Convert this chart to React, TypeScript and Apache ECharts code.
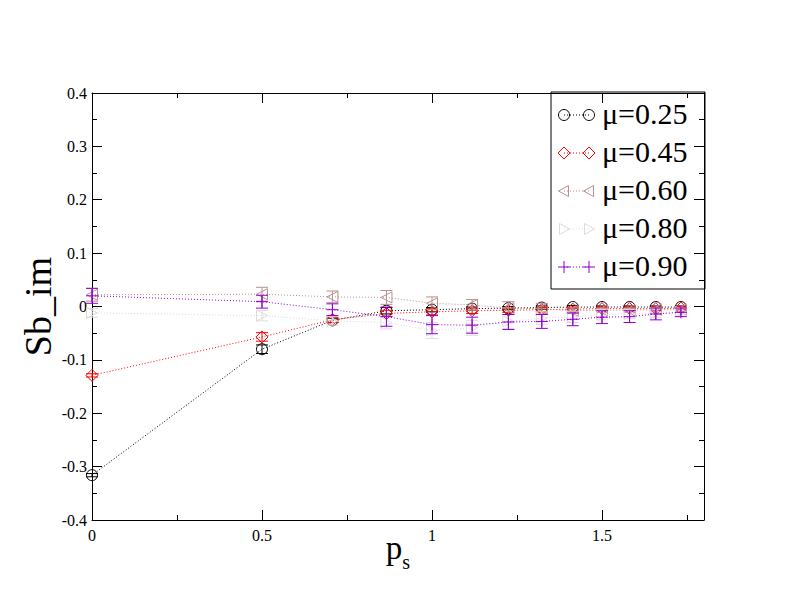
import React, { useEffect, useRef } from "react";
import * as echarts from "echarts";

// ---- data ----
const psValues = [0, 0.5, 0.7071, 0.866, 1.0, 1.118, 1.2247, 1.3229, 1.4142, 1.5, 1.5811, 1.6583, 1.7321];

const mu025 = [-0.316, -0.080, -0.026, -0.008, -0.006, -0.004, -0.003, -0.002, -0.001, -0.001, -0.001, -0.001, -0.001];
const mu025Err = [0.003, 0.008, 0.004, 0.006, 0.004, 0.003, 0.003, 0.003, 0.003, 0.002, 0.002, 0.002, 0.002];

const mu045 = [-0.129, -0.057, -0.025, -0.013, -0.010, -0.008, -0.007, -0.006, -0.005, -0.004, -0.004, -0.004, -0.003];
const mu045Err = [0.003, 0.008, 0.005, 0.006, 0.006, 0.005, 0.004, 0.004, 0.004, 0.003, 0.003, 0.003, 0.003];

const mu060 = [0.022, 0.023, 0.018, 0.017, 0.006, 0.003, -0.003, -0.004, -0.008, -0.007, -0.007, -0.006, -0.006];
const mu060Err = [0.012, 0.013, 0.011, 0.013, 0.012, 0.010, 0.012, 0.010, 0.005, 0.004, 0.004, 0.004, 0.003];

const mu080 = [-0.012, -0.017, -0.027, -0.030, -0.045, -0.040, -0.028, -0.022, -0.020, -0.015, -0.014, -0.012, -0.010];
const mu080Err = [0.008, 0.010, 0.008, 0.012, 0.015, 0.014, 0.013, 0.012, 0.010, 0.010, 0.009, 0.008, 0.006];

const mu090 = [0.020, 0.009, -0.006, -0.019, -0.034, -0.035, -0.029, -0.028, -0.024, -0.020, -0.019, -0.014, -0.011];
const mu090Err = [0.014, 0.012, 0.011, 0.018, 0.017, 0.015, 0.014, 0.013, 0.012, 0.012, 0.011, 0.011, 0.008];

const seriesNames = ["μ=0.25", "μ=0.45", "μ=0.60", "μ=0.80", "μ=0.90"];

const FONT = "'Liberation Serif', 'Times New Roman', serif";

type Kind = "circle" | "diamond" | "left" | "right" | "plus";

const setDefs: { name: string; vals: number[]; errs: number[]; color: string; kind: Kind }[] = [
  { name: seriesNames[0], vals: mu025, errs: mu025Err, color: "#000000", kind: "circle" },
  { name: seriesNames[1], vals: mu045, errs: mu045Err, color: "#ff0000", kind: "diamond" },
  { name: seriesNames[2], vals: mu060, errs: mu060Err, color: "#bc8f8f", kind: "left" },
  { name: seriesNames[3], vals: mu080, errs: mu080Err, color: "#dcdcdc", kind: "right" },
  { name: seriesNames[4], vals: mu090, errs: mu090Err, color: "#9400d3", kind: "plus" },
];

function symbolFor(kind: Kind) {
  switch (kind) {
    case "circle":
      return { symbol: "circle", symbolSize: 11, symbolRotate: 0 };
    case "diamond":
      return { symbol: "diamond", symbolSize: 12, symbolRotate: 0 };
    case "left":
      return { symbol: "triangle", symbolSize: 11, symbolRotate: 90 };
    case "right":
      return { symbol: "triangle", symbolSize: 11, symbolRotate: -90 };
    default:
      return { symbol: "path://M0 5 L10 5 M5 0 L5 10", symbolSize: 12, symbolRotate: 0 };
  }
}

function legendSymbol(kind: Kind, cx: number, cy: number, color: string): any[] {
  const style = { fill: "none", stroke: color, lineWidth: 1 };
  switch (kind) {
    case "circle":
      return [{ type: "circle", shape: { cx, cy, r: 5.5 }, style }];
    case "diamond":
      return [{ type: "polygon", shape: { points: [[cx - 6, cy], [cx, cy - 6], [cx + 6, cy], [cx, cy + 6]] }, style }];
    case "left":
      return [{ type: "polygon", shape: { points: [[cx - 5.5, cy], [cx + 4.5, cy - 5.5], [cx + 4.5, cy + 5.5]] }, style }];
    case "right":
      return [{ type: "polygon", shape: { points: [[cx + 5.5, cy], [cx - 4.5, cy - 5.5], [cx - 4.5, cy + 5.5]] }, style }];
    default:
      return [
        { type: "line", shape: { x1: cx - 6, y1: cy, x2: cx + 6, y2: cy }, style },
        { type: "line", shape: { x1: cx, y1: cy - 6, x2: cx, y2: cy + 6 }, style },
      ];
  }
}

export default function App() {
  const ref = useRef<HTMLDivElement>(null);

  useEffect(() => {
    if (!ref.current) return;
    const chart = echarts.init(ref.current, undefined, { renderer: "svg" });

    const axisLine = { show: true, onZero: false, lineStyle: { color: "#000", width: 1 } };
    const noLine = { show: false, onZero: false };
    const majorTick = { show: true, inside: true, length: 10, lineStyle: { color: "#000", width: 1 } };
    const minorTickAx = { show: true, inside: true, length: 5, lineStyle: { color: "#000", width: 1 } };

    const xAxes: any[] = [
      {
        type: "value", position: "bottom", min: 0, max: 1.8, interval: 0.5,
        axisLine, axisTick: majorTick, splitLine: { show: false },
        axisLabel: { show: true, showMaxLabel: false, color: "#000", fontFamily: FONT, fontSize: 16, margin: 7 },
        name: "{p|p}{s|s}", nameLocation: "middle", nameGap: 10, nameMoveOverlap: false,
        nameTextStyle: {
          color: "#000",
          rich: {
            p: { fontFamily: FONT, fontSize: 33, color: "#000", verticalAlign: "bottom", lineHeight: 34 },
            s: { fontFamily: FONT, fontSize: 20, color: "#000", verticalAlign: "bottom", lineHeight: 20, padding: [0, 0, -8, 0] },
          },
        },
      },
      {
        type: "value", position: "bottom", min: 0, max: 1.8, interval: 0.25,
        axisLine: noLine, axisTick: minorTickAx, axisLabel: { show: false }, splitLine: { show: false },
      },
      {
        type: "value", position: "top", min: 0, max: 1.8, interval: 0.5,
        axisLine, axisTick: majorTick, axisLabel: { show: false }, splitLine: { show: false },
      },
      {
        type: "value", position: "top", min: 0, max: 1.8, interval: 0.25,
        axisLine: noLine, axisTick: minorTickAx, axisLabel: { show: false }, splitLine: { show: false },
      },
    ];

    const yAxes: any[] = [
      {
        type: "value", position: "left", min: -0.4, max: 0.4, interval: 0.1,
        axisLine, axisTick: majorTick,
        minorTick: { show: true, splitNumber: 2, length: 5, lineStyle: { color: "#000", width: 1 } },
        splitLine: { show: false }, minorSplitLine: { show: false },
        axisLabel: { show: true, color: "#000", fontFamily: FONT, fontSize: 16, margin: 5 },
        name: "Sb_im", nameLocation: "middle", nameGap: 35, nameRotate: 90, nameMoveOverlap: false,
        nameTextStyle: { color: "#000", fontFamily: FONT, fontSize: 38 },
      },
      {
        type: "value", position: "right", min: -0.4, max: 0.4, interval: 0.1,
        axisLine, axisTick: majorTick,
        minorTick: { show: true, splitNumber: 2, length: 5, lineStyle: { color: "#000", width: 1 } },
        splitLine: { show: false }, axisLabel: { show: false },
      },
    ];

    const series: any[] = [];
    setDefs.forEach((d, si) => {
      const sym = symbolFor(d.kind);
      series.push({
        type: "custom",
        name: d.name + " err",
        xAxisIndex: 0,
        yAxisIndex: 0,
        silent: true,
        z: 2 + si * 2,
        encode: { x: 0, y: 1 },
        data: psValues.map((x, i) => [x, d.vals[i], d.errs[i]]),
        renderItem: (_params: any, api: any) => {
          const x = api.value(0);
          const y = api.value(1);
          const e = api.value(2);
          const top = api.coord([x, y + e]);
          const bot = api.coord([x, y - e]);
          const hw = 6;
          const style = { stroke: d.color, lineWidth: 1, fill: "none" };
          return {
            type: "group",
            children: [
              { type: "line", shape: { x1: top[0], y1: top[1], x2: bot[0], y2: bot[1] }, style },
              { type: "line", shape: { x1: top[0] - hw, y1: top[1], x2: top[0] + hw, y2: top[1] }, style },
              { type: "line", shape: { x1: bot[0] - hw, y1: bot[1], x2: bot[0] + hw, y2: bot[1] }, style },
            ],
          };
        },
      });
      series.push({
        type: "line",
        name: d.name,
        xAxisIndex: 0,
        yAxisIndex: 0,
        z: 3 + si * 2,
        data: psValues.map((x, i) => [x, d.vals[i]]),
        showSymbol: true,
        symbol: sym.symbol,
        symbolSize: sym.symbolSize,
        symbolRotate: sym.symbolRotate,
        clip: false,
        itemStyle: { color: "rgba(0,0,0,0)", borderColor: d.color, borderWidth: 1 },
        lineStyle: { color: d.color, width: 1, type: [1, 2] },
        emphasis: { disabled: true },
      });
    });

    // legend drawn as graphics
    const lgX = 551, lgY = 92, lgW = 154, lgH = 197;
    const rowY0 = 115, rowStep = 38;
    const legendChildren: any[] = [
      { type: "rect", shape: { x: lgX, y: lgY, width: lgW, height: lgH }, style: { fill: "#fff", stroke: "#000", lineWidth: 1 } },
    ];
    setDefs.forEach((d, i) => {
      const cy = rowY0 + i * rowStep;
      const c1 = 564, c2 = 589;
      legendChildren.push({
        type: "line",
        shape: { x1: c1, y1: cy, x2: c2, y2: cy },
        style: { stroke: d.color, lineWidth: 1, lineDash: [1, 2] },
      });
      legendChildren.push(...legendSymbol(d.kind, c1, cy, d.color));
      legendChildren.push(...legendSymbol(d.kind, c2, cy, d.color));
      legendChildren.push({
        type: "text",
        x: 602,
        y: cy - 2,
        style: { text: d.name, fontFamily: FONT, fontSize: 30, fill: "#000", align: "left", verticalAlign: "middle" },
      });
    });

    chart.setOption({
      animation: false,
      backgroundColor: "#fff",
      grid: { left: 92, right: 88, top: 93, bottom: 92, containLabel: false },
      xAxis: xAxes,
      yAxis: yAxes,
      series,
      graphic: [{ type: "group", z: 100, children: legendChildren }],
    });

    return () => chart.dispose();
  }, []);

  return (
    <div
      ref={ref}
      style={{ position: "fixed", left: 0, top: 0, width: 792, height: 612, background: "#fff" }}
    />
  );
}
